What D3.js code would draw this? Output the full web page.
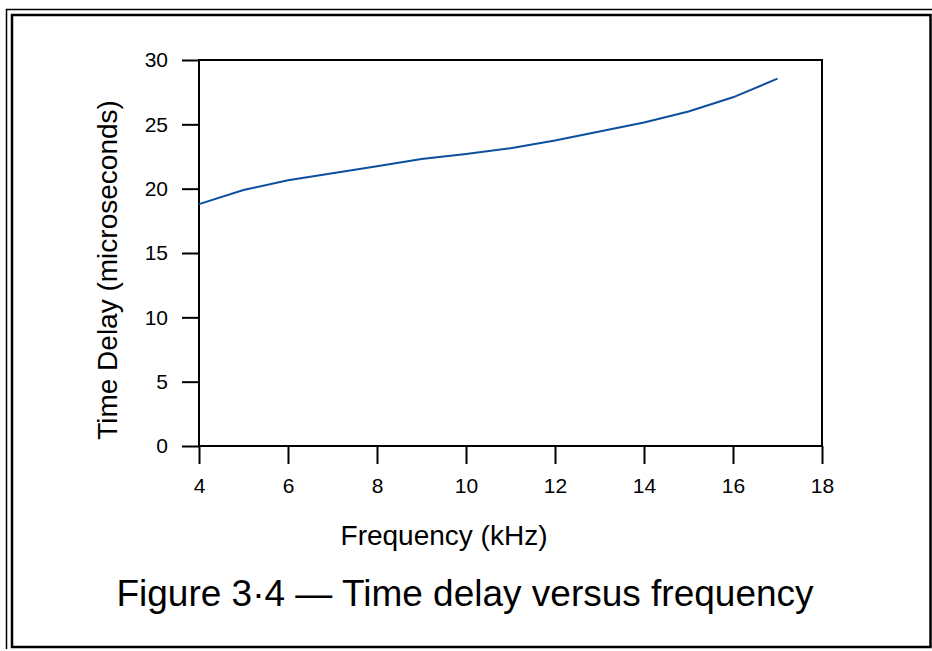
<!DOCTYPE html>
<html>
<head>
<meta charset="utf-8">
<script src="https://cdn.jsdelivr.net/npm/d3@7"></script>
<style>
  body { margin: 0; background: #fff; }
  svg { display: block; font-family: "Liberation Sans", Arial, sans-serif; }
</style>
</head>
<body>
<svg width="932" height="651"></svg>
<script>
// chart values
var frequency = [4, 5, 6, 7, 8, 9, 10, 11, 12, 13, 14, 15, 16, 17];
var delay = [18.8, 19.9, 20.65, 21.2, 21.75, 22.3, 22.7, 23.15, 23.75, 24.45, 25.15, 26.0, 27.1, 28.55];
var xTicks = [4, 6, 8, 10, 12, 14, 16, 18];
var yTicks = [0, 5, 10, 15, 20, 25, 30];

var svg = d3.select('svg');

// frame (double rule like the original page)
svg.append('path')
    .attr('d', 'M6.5,649 V9.5 H932')
    .attr('fill', 'none').attr('stroke', '#000').attr('stroke-width', 1.5);
svg.append('rect')
    .attr('x', 12).attr('y', 15).attr('width', 918.5).attr('height', 632)
    .attr('fill', 'none').attr('stroke', '#000').attr('stroke-width', 2.5);

var plotLeft = 199, plotRight = 822, plotTop = 60, plotBottom = 446;

var x = d3.scaleLinear().domain([4, 18]).range([plotLeft, plotRight]);
var y = d3.scaleLinear().domain([0, 30]).range([plotBottom, plotTop]);

// plot box
svg.append('rect')
    .attr('x', plotLeft).attr('y', plotTop)
    .attr('width', plotRight - plotLeft).attr('height', plotBottom - plotTop)
    .attr('fill', 'none').attr('stroke', '#000').attr('stroke-width', 2);

var xAxis = svg.append('g')
    .attr('transform', 'translate(0,' + plotBottom + ')')
    .call(d3.axisBottom(x).tickValues(xTicks).tickSize(18).tickPadding(14).tickSizeOuter(0));
var yAxis = svg.append('g')
    .attr('transform', 'translate(' + plotLeft + ',0)')
    .call(d3.axisLeft(y).tickValues(yTicks).tickSize(17).tickPadding(14).tickSizeOuter(0));

[xAxis, yAxis].forEach(function (g) {
    g.attr('font-size', null).attr('font-family', null);
    g.select('.domain').remove();
    g.selectAll('line').attr('stroke', '#000').attr('stroke-width', 2);
    g.selectAll('text').attr('fill', '#000').style('font-size', '21px');
});

var line = d3.line()
    .x(function (d, i) { return x(frequency[i]); })
    .y(function (d) { return y(d); });

svg.append('path')
    .datum(delay)
    .attr('d', line)
    .attr('fill', 'none')
    .attr('stroke', '#0b4f9e')
    .attr('stroke-width', 2);

svg.append('text')
    .attr('x', 444).attr('y', 545)
    .attr('text-anchor', 'middle')
    .style('font-size', '28px')
    .text('Frequency (kHz)');

svg.append('text')
    .attr('transform', 'translate(117,270) rotate(-90)')
    .attr('text-anchor', 'middle')
    .style('font-size', '28px')
    .text('Time Delay (microseconds)');

svg.append('text')
    .attr('x', 465).attr('y', 606)
    .attr('text-anchor', 'middle')
    .style('font-size', '37px')
    .text('Figure 3\u00b74 \u2014 Time delay versus frequency');
</script>
</body>
</html>
